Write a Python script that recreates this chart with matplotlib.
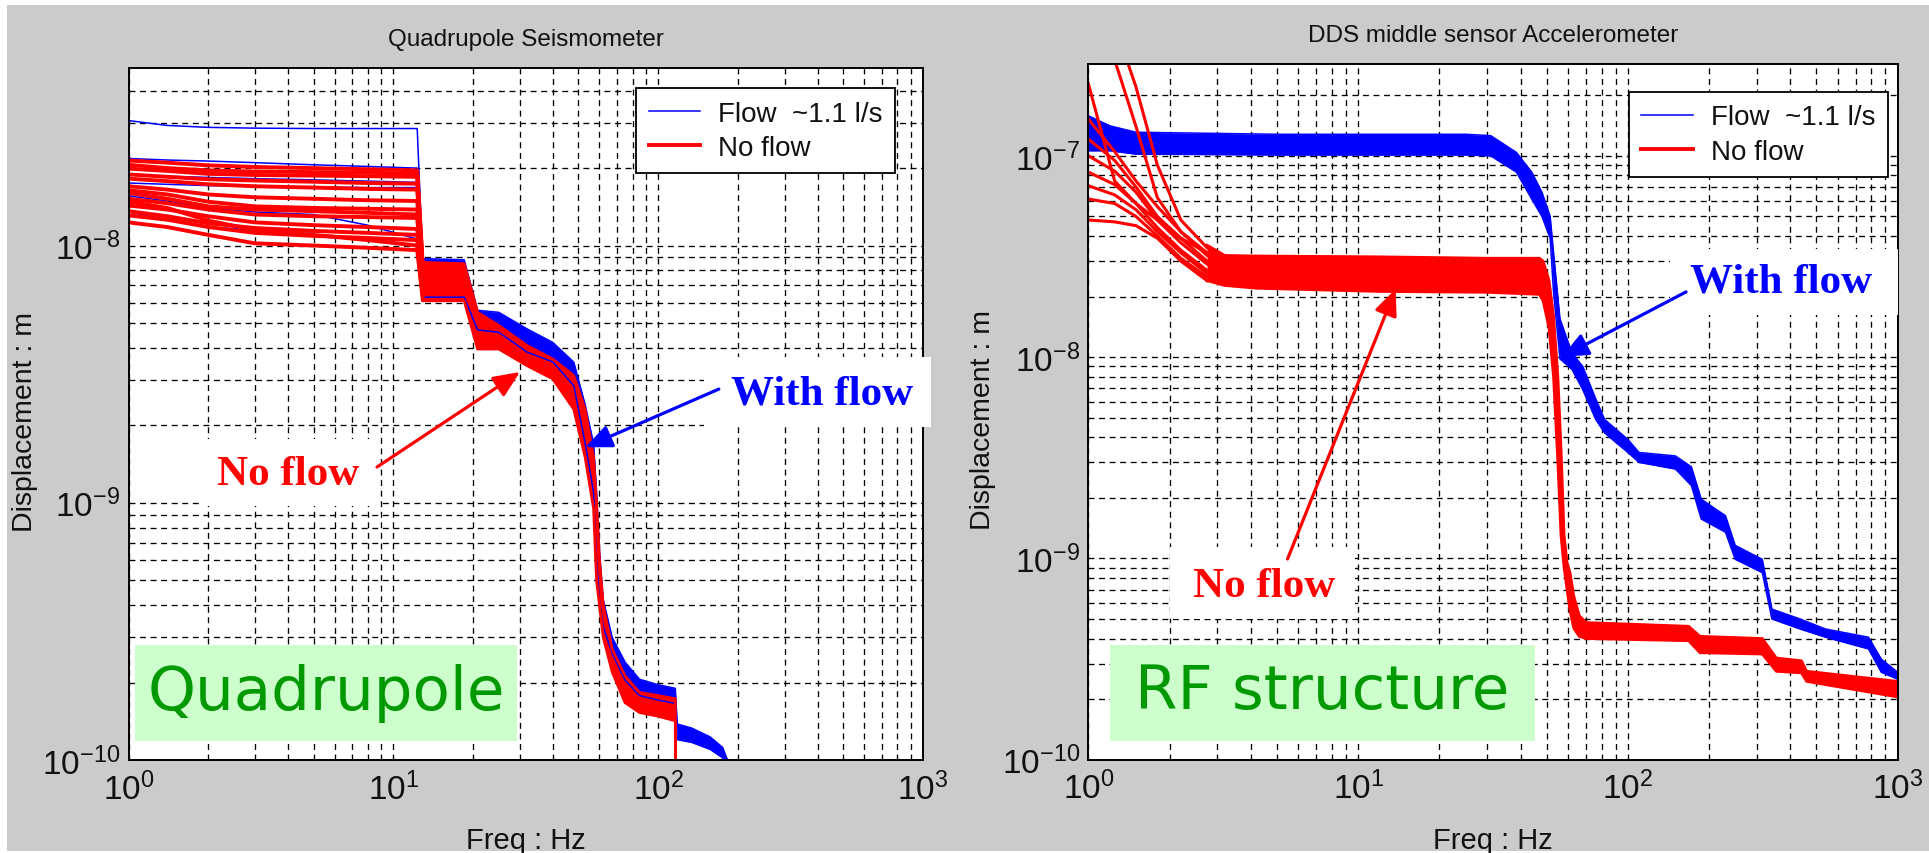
import numpy as np
import matplotlib
matplotlib.use("Agg")
import matplotlib.pyplot as plt
from matplotlib.lines import Line2D
from matplotlib.patches import Rectangle
from matplotlib.ticker import FixedLocator, LogLocator, NullFormatter

plt.rcParams["font.family"] = ["Liberation Sans", "DejaVu Sans"]
plt.rcParams["mathtext.fontset"] = "custom"
plt.rcParams["mathtext.rm"] = "Liberation Sans"
plt.rcParams["mathtext.it"] = "Liberation Sans:italic"
plt.rcParams["mathtext.bf"] = "Liberation Sans:bold"

BLUE = "#0000ff"
RED = "#ff0000"

# ---------------- Quadrupole seismometer (values in nm) ----------------
quad_plateau_freq = [1, 1.4, 2, 3, 5, 8, 12.3, 12.9]

quad_noflow_plateau = [
    [21.4, 21.0, 20.5, 20.2, 20.0, 19.8, 19.6, 8.5],
    [19.9, 19.5, 19.0, 18.8, 18.7, 18.6, 18.5, 8.2],
    [18.2, 17.8, 17.3, 17.0, 16.8, 16.6, 16.5, 7.8],
    [17.0, 16.5, 15.8, 15.4, 15.2, 15.0, 14.9, 7.5],
    [16.4, 15.8, 14.8, 14.2, 14.0, 13.9, 13.8, 7.2],
    [15.2, 14.6, 13.8, 13.2, 13.0, 12.9, 12.8, 7.0],
    [14.3, 13.8, 13.0, 12.3, 12.0, 11.8, 11.6, 6.8],
    [13.1, 12.6, 11.8, 11.2, 10.9, 10.7, 10.5, 6.5],
    [12.3, 11.8, 11.0, 10.2, 10.0, 9.8, 9.6, 6.2],
    [14.8, 14.0, 12.5, 11.5, 11.0, 10.5, 10.0, 6.4],
    [20.6, 20.0, 19.6, 19.4, 19.3, 19.2, 19.0, 8.3],
    [18.9, 18.5, 18.1, 17.9, 17.7, 17.5, 17.4, 8.0],
    [16.0, 15.2, 14.2, 13.8, 13.6, 13.4, 13.2, 7.3],
    [13.6, 13.0, 12.2, 11.7, 11.4, 11.2, 11.0, 6.6],
]

quad_flow_plateau = [
    [30.6, 29.3, 28.8, 28.6, 28.5, 28.5, 28.5, 8.8],
    [21.8, 21.5, 21.3, 21.0, 20.6, 20.3, 20.0, 8.8],
    [18.8, 18.6, 18.4, 18.2, 18.0, 17.8, 17.6, 8.6],
    [17.5, 17.3, 17.1, 17.0, 16.9, 16.8, 16.8, 8.4],
    [13.5, 12.6, 11.8, 11.5, 11.3, 11.2, 11.0, 7.0],
    [15.6, 14.9, 14.0, 13.5, 13.2, 12.0, 10.6, 6.8],
]

quad_flow_freq = [12.9, 18.5, 20.8, 25, 32, 40, 48, 53, 57, 58.5, 60, 62, 67,
                  75, 85, 100, 116, 118, 134, 157, 175, 190]
quad_flow_hi = [8.9, 8.8, 5.6, 5.5, 4.74, 4.2, 3.52, 2.4, 1.7, 1.1, 0.65, 0.42,
                0.30, 0.24, 0.206, 0.196, 0.19, 0.138, 0.133, 0.123, 0.112, 0.09]
quad_flow_lo = [6.3, 6.3, 4.7, 4.6, 3.85, 3.53, 2.85, 1.7, 1.1, 0.6, 0.42, 0.33,
                0.26, 0.204, 0.178, 0.171, 0.166, 0.12, 0.117, 0.11, 0.102, 0.085]

quad_noflow_freq = [12.9, 18.5, 20.8, 25, 32, 40, 48, 53, 57, 58.5, 60, 62, 67,
                    75, 85, 100, 116, 118]
quad_noflow_hi = [8.6, 8.5, 5.5, 4.89, 4.08, 3.62, 3.12, 2.3, 1.5, 1.0, 0.6, 0.4,
                  0.27, 0.212, 0.183, 0.178, 0.173, 0.01]
quad_noflow_lo = [6.1, 6.1, 3.96, 3.96, 3.41, 3.03, 2.31, 1.5, 0.95, 0.5, 0.4, 0.3,
                  0.22, 0.167, 0.153, 0.148, 0.142, 0.01]

# ---------------- RF structure accelerometer (values in nm) ----------------
rf_flow_freq = [1, 1.2, 1.5, 5, 25, 31, 38.6, 44, 48, 51.5, 53, 56, 62, 68, 76,
                82, 100, 110, 150, 172, 187, 230, 250, 315, 342, 435, 540, 780,
                870, 1000]
rf_flow_hi = [158, 141, 131, 128, 128, 126, 104, 83, 66, 50, 33, 15.5, 10.5, 9.0,
              6.2, 4.9, 3.9, 3.36, 3.23, 2.85, 1.97, 1.63, 1.16, 0.99, 0.56, 0.50,
              0.446, 0.406, 0.316, 0.272]
rf_flow_lo = [106, 106, 102, 101, 101, 100, 83, 61, 50, 39, 21, 9.8, 8.7, 6.9,
              4.9, 4.2, 3.36, 3.0, 2.78, 2.3, 1.57, 1.35, 0.99, 0.85, 0.50, 0.446,
              0.406, 0.355, 0.272, 0.251]

rf_start_freq = [1, 1.25, 1.5, 1.8, 2.2, 2.75]
rf_noflow_start = [
    [227, 75, 58, 48, 39, 33],
    [600, 300, 140, 62, 42, 33],
    [850, 450, 220, 90, 48, 35],
    [152, 105, 75, 56, 42, 32],
    [121, 95, 70, 50, 39, 30],
    [100, 84, 66, 48, 37, 29],
    [83, 72, 58, 44, 34, 27],
    [71, 64, 54, 42, 33, 26],
    [61, 58, 50, 40, 31, 25],
    [48, 47, 45, 39, 30, 24],
]

rf_noflow_freq = [2.75, 3.2, 4.2, 12, 30, 47, 48.5, 51, 53, 55, 56.5, 58, 59.5,
                  61, 63, 66, 70, 168, 185, 315, 355, 440, 460, 1000]
rf_noflow_hi = [36, 32, 31.8, 31.5, 31, 31, 30, 24, 16, 8, 3.5, 1.3, 0.95, 0.85,
                0.65, 0.52, 0.48, 0.46, 0.41, 0.40, 0.32, 0.31, 0.275, 0.245]
rf_noflow_lo = [24, 22.7, 22, 21.2, 21, 20.5, 19, 14, 8, 3, 1.3, 0.9, 0.7, 0.55,
                0.45, 0.41, 0.40, 0.39, 0.34, 0.335, 0.275, 0.27, 0.245, 0.205]

xtick_values = [1, 10, 100, 1000]
xtick_labels = [r"$10^{0}$", r"$10^{1}$", r"$10^{2}$", r"$10^{3}$"]
quad_ytick_values = [1e-10, 1e-9, 1e-8]
quad_ytick_labels = [r"$10^{-10}$", r"$10^{-9}$", r"$10^{-8}$"]
rf_ytick_values = [1e-10, 1e-9, 1e-8, 1e-7]
rf_ytick_labels = [r"$10^{-10}$", r"$10^{-9}$", r"$10^{-8}$", r"$10^{-7}$"]

NM = 1e-9

fig = plt.figure(figsize=(19.29, 8.54), dpi=100)
fig.patch.set_facecolor("white")
fig.add_artist(Rectangle((7 / 1929, 2 / 854), 1 - 7 / 1929, 846 / 854,
                         transform=fig.transFigure, facecolor="#cbcbcb",
                         edgecolor="none", zorder=-10))

ax1 = fig.add_axes([0.06667, 0.10890, 0.41182, 0.81030])
ax2 = fig.add_axes([0.56428, 0.10925, 0.41944, 0.81464])


def style_axes(ax, ylim, yticks, ylabels, title):
    ax.set_xscale("log")
    ax.set_yscale("log")
    ax.set_xlim(1, 1000)
    ax.set_ylim(*ylim)
    ax.set_facecolor("white")
    ax.xaxis.set_major_locator(FixedLocator(xtick_values))
    ax.set_xticklabels(xtick_labels)
    ax.yaxis.set_major_locator(FixedLocator(yticks))
    ax.set_yticklabels(ylabels)
    ax.xaxis.set_minor_locator(LogLocator(base=10, subs=range(2, 10)))
    ax.yaxis.set_minor_locator(LogLocator(base=10, subs=range(2, 10)))
    ax.xaxis.set_minor_formatter(NullFormatter())
    ax.yaxis.set_minor_formatter(NullFormatter())
    ax.grid(True, which="both", color="black", linestyle=(0, (4.5, 3.5)),
            linewidth=0.95)
    ax.set_axisbelow(True)
    ax.tick_params(which="both", length=0, labelsize=24, colors="#111111")
    ax.tick_params(axis="x", pad=8)
    ax.tick_params(axis="y", pad=6)
    for sp in ax.spines.values():
        sp.set_linewidth(1.4)
        sp.set_color("black")
    ax.set_title(title, fontsize=17.5, pad=16.5, color="#111111")
    ax.set_xlabel("Freq : Hz", fontsize=21, color="#111111")
    ax.set_ylabel("Displacement : m", fontsize=20.5, color="#111111")
    ax.xaxis.set_label_coords(0.5, -0.095)
    ax.yaxis.set_label_coords(-0.114, 0.49)


def band(ax, f, lo, hi, color, lw):
    lo = np.array(lo) * NM
    hi = np.array(hi) * NM
    ax.fill_between(f, lo, hi, color=color, linewidth=0)
    ax.plot(f, hi, color=color, lw=lw)
    ax.plot(f, lo, color=color, lw=lw)


def note(ax, box, text, text_xy, tail, tip, color):
    ax.add_patch(Rectangle((box[0], box[1]), box[2] - box[0], box[3] - box[1],
                           transform=ax.transAxes, facecolor="white",
                           edgecolor="none", clip_on=False, zorder=5))
    ax.text(text_xy[0], text_xy[1], text, transform=ax.transAxes, ha="center",
            va="center", fontsize=31, fontweight="bold", color=color,
            family=["Liberation Serif", "DejaVu Serif"], zorder=6)
    ax.annotate("", xy=tip, xytext=tail, xycoords="axes fraction",
                textcoords="axes fraction", annotation_clip=False, zorder=7,
                arrowprops=dict(arrowstyle="-|>,head_length=0.8,head_width=0.35",
                                color=color, lw=2.3, shrinkA=0, shrinkB=0,
                                mutation_scale=20))


def tag(ax, box, text, text_xy):
    ax.add_patch(Rectangle((box[0], box[1]), box[2] - box[0], box[3] - box[1],
                           transform=ax.transAxes, facecolor="#ccffcc",
                           edgecolor="none", clip_on=False, zorder=5))
    ax.text(text_xy[0], text_xy[1], text, transform=ax.transAxes, ha="center",
            va="center", fontsize=44, color="#009900",
            family=["DejaVu Sans"], zorder=6)


# ---------------- left: Quadrupole ----------------
style_axes(ax1, (1e-10, 4.9e-8), quad_ytick_values, quad_ytick_labels,
           "Quadrupole Seismometer")
for tr in quad_flow_plateau:
    ax1.plot(quad_plateau_freq, np.array(tr) * NM, color=BLUE, lw=1.1)
band(ax1, quad_flow_freq, quad_flow_lo, quad_flow_hi, BLUE, 1.1)
for tr in quad_noflow_plateau:
    ax1.plot(quad_plateau_freq, np.array(tr) * NM, color=RED, lw=2.8)
band(ax1, quad_noflow_freq, quad_noflow_lo, quad_noflow_hi, RED, 2.0)

# ---------------- right: RF structure ----------------
style_axes(ax2, (1e-10, 2.86e-7), rf_ytick_values, rf_ytick_labels,
           "DDS middle sensor Accelerometer")
band(ax2, rf_flow_freq, rf_flow_lo, rf_flow_hi, BLUE, 1.1)
for tr in rf_noflow_start:
    ax2.plot(rf_start_freq, np.array(tr) * NM, color=RED, lw=2.2)
band(ax2, rf_noflow_freq, rf_noflow_lo, rf_noflow_hi, RED, 2.0)

handles = [Line2D([], [], color=BLUE, lw=1.1), Line2D([], [], color=RED, lw=2.8)]
labels = ["Flow  ~1.1 l/s", "No flow"]
for ax, anchor in [(ax1, (0.9648, 0.971)), (ax2, (0.988, 0.960))]:
    leg = ax.legend(handles, labels, loc="upper right", bbox_to_anchor=anchor,
                    borderaxespad=0, fontsize=20, fancybox=False, framealpha=1,
                    edgecolor="black", handlelength=1.85, handletextpad=0.65,
                    labelspacing=0.3, borderpad=0.45)
    leg.get_frame().set_linewidth(1.3)
    for t in leg.get_texts():
        t.set_color("#111111")

# annotations
note(ax1, (0.724, 0.481, 1.010, 0.582), "With flow", (0.873, 0.529),
     (0.743, 0.536), (0.575, 0.452), BLUE)
note(ax1, (0.0886, 0.367, 0.3166, 0.464), "No flow", (0.2007, 0.4133),
     (0.3127, 0.4234), (0.4927, 0.5607), RED)
tag(ax1, (0.0077, 0.0279, 0.4895, 0.1662), "Quadrupole", (0.2485, 0.098))

note(ax2, (0.7187, 0.639, 1.0, 0.734), "With flow", (0.856, 0.688),
     (0.7385, 0.6724), (0.5852, 0.579), BLUE)
note(ax2, (0.1007, 0.2023, 0.3294, 0.3058), "No flow", (0.2169, 0.2497),
     (0.2460, 0.2885), (0.3797, 0.6766), RED)
tag(ax2, (0.0266, 0.0273, 0.5519, 0.1649), "RF structure", (0.2886, 0.0974))

fig.savefig("out.png", dpi=100, facecolor=fig.get_facecolor())
